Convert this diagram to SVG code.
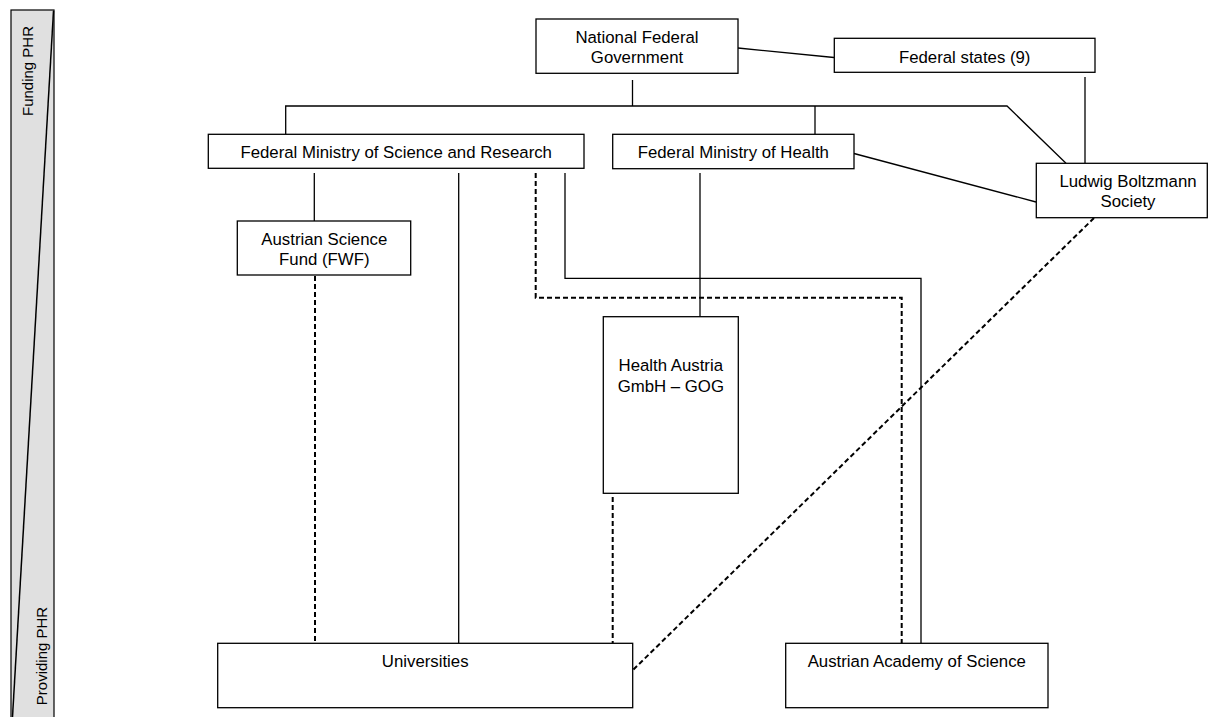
<svg xmlns="http://www.w3.org/2000/svg" width="1210" height="717" viewBox="0 0 1210 717">
<style>
.box{fill:#fff;stroke:#000;stroke-width:1.3}
.t{font-family:"Liberation Sans",Arial,sans-serif;font-size:16.8px;fill:#000;text-anchor:middle}
.side{font-family:"Liberation Sans",Arial,sans-serif;font-size:15px;fill:#000;text-anchor:middle}
.s{fill:none;stroke:#000;stroke-width:1.3}
.d{fill:none;stroke:#000;stroke-width:2;stroke-dasharray:5,3}
</style>
<rect width="1210" height="717" fill="#fff"/>
<g id="sidebar">
<rect x="11" y="10" width="43" height="720" fill="#e0e0e0" stroke="#000" stroke-width="1.2"/>
<line x1="53.5" y1="11" x2="12.5" y2="717" stroke="#000" stroke-width="1.5"/>
<text class="side" transform="translate(33,71) rotate(-90)">Funding PHR</text>
<text class="side" transform="translate(47,656) rotate(-90)">Providing PHR</text>
</g>
<g id="connectors">
<line class="s" x1="738" y1="48" x2="834" y2="57.5"/>
<line class="s" x1="632.5" y1="80" x2="632.5" y2="106"/>
<polyline class="s" points="285.7,134.3 285.7,106 1007,106 1066,163.3"/>
<line class="s" x1="815" y1="106" x2="815" y2="134.3"/>
<line class="s" x1="1085" y1="77" x2="1085" y2="163.3"/>
<line class="s" x1="854" y1="153.5" x2="1036" y2="202"/>
<line class="s" x1="314.3" y1="173" x2="314.3" y2="221"/>
<line class="s" x1="458.7" y1="173" x2="458.7" y2="643.3"/>
<polyline class="s" points="565,173 565,278.3 921,278.3 921,643.3"/>
<polyline class="d" points="535.7,173 535.7,297.7 901.7,297.7 901.7,643.3"/>
<line class="s" x1="700" y1="173" x2="700" y2="316.7"/>
<line class="d" x1="315" y1="276" x2="315" y2="643.3"/>
<line class="d" x1="612.7" y1="489" x2="612.7" y2="643.3"/>
<line class="d" x1="1094" y1="218" x2="633" y2="670"/>
</g>
<g id="nfg">
<rect class="box" x="536" y="19" width="202" height="54.3"/>
<text class="t" x="637" y="43.3">National Federal</text>
<text class="t" x="637" y="63.3">Government</text>
</g>
<g id="states">
<rect class="box" x="834.3" y="38.3" width="260.7" height="34"/>
<text class="t" x="964.7" y="62.5">Federal states (9)</text>
</g>
<g id="bmwf">
<rect class="box" x="208.3" y="134.3" width="375.7" height="34"/>
<text class="t" x="396.2" y="157.5">Federal Ministry of Science and Research</text>
</g>
<g id="bmg">
<rect class="box" x="612.7" y="134.3" width="241.3" height="34.4"/>
<text class="t" x="733.3" y="157.5">Federal Ministry of Health</text>
</g>
<g id="lbg">
<rect class="box" x="1036.3" y="163.3" width="171" height="54.4"/>
<text class="t" x="1128" y="186.7">Ludwig Boltzmann</text>
<text class="t" x="1128" y="206.7">Society</text>
</g>
<g id="fwf">
<rect class="box" x="237.3" y="221" width="173.4" height="54"/>
<text class="t" x="324.3" y="245">Austrian Science</text>
<text class="t" x="324.3" y="265">Fund (FWF)</text>
</g>
<g id="goeg">
<rect class="box" x="603.3" y="316.7" width="135" height="176.6"/>
<text class="t" x="670.8" y="370.7">Health Austria</text>
<text class="t" x="670.8" y="391.7">GmbH – GOG</text>
</g>
<g id="universities">
<rect class="box" x="217.7" y="643.3" width="415" height="64.4"/>
<text class="t" x="425.2" y="666.7">Universities</text>
</g>
<g id="academy">
<rect class="box" x="785.7" y="643.3" width="262.3" height="64.4"/>
<text class="t" x="916.8" y="666.7">Austrian Academy of Science</text>
</g>
</svg>
